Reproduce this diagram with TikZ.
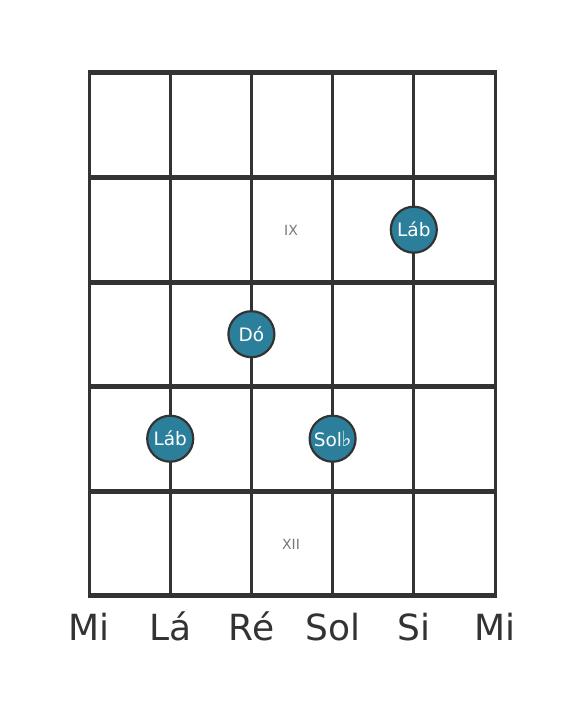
\documentclass[tikz,border=0pt]{standalone}
\usepackage{fontspec}
\setmainfont{DejaVu Sans}
\definecolor{linec}{HTML}{333333}
\definecolor{notec}{HTML}{2B7F9B}
\definecolor{fretlab}{HTML}{777777}
\tikzset{
  stringline/.style={draw=linec, line width=3pt},
  fretline/.style={draw=linec, line width=5pt},
  note/.style={circle, draw=linec, line width=2.2pt, fill=notec, minimum size=46pt, inner sep=0pt, text=white, font=\fontsize{18.5}{18.5}\selectfont},
  fretnum/.style={text=fretlab, font=\fontsize{14}{14}\selectfont},
  strname/.style={text=linec, font=\fontsize{36}{36}\selectfont}
}
\begin{document}
\begin{tikzpicture}[x=1pt,y=-1pt]
\useasboundingbox (0,0) rectangle (584,711);
% strings
\foreach \x in {89,170.2,251.4,332.6,413.8,495}
  \draw[stringline] (\x,73) -- (\x,595.5);
% frets
\foreach \y in {73,177.5,282,386.5,491,595.5}
  \draw[fretline] (87.5,\y) -- (496.5,\y);
% fret numbers
\node[fretnum] (f9) at (291,230) {IX};
\node[fretnum] (f12) at (291,544) {XII};
% notes
\node[note] (n1) at (413.8,229.7) {Láb};
\node[note] (n2) at (251.4,334.2) {Dó};
\node[note] (n3) at (170.2,438.7) {Láb};
\node[note] (n4) at (332.6,438.7) {Sol\kern-0.5pt{\fontsize{21}{21}\selectfont ♭}};
% string names
\foreach \x/\t/\n in {89/Mi/s1,170.2/Lá/s2,251.4/Ré/s3,332.6/Sol/s4,413.8/Si/s5,495/Mi/s6}
  \node[strname, anchor=base] (\n) at (\x,640) {\t};
\end{tikzpicture}
\end{document}
